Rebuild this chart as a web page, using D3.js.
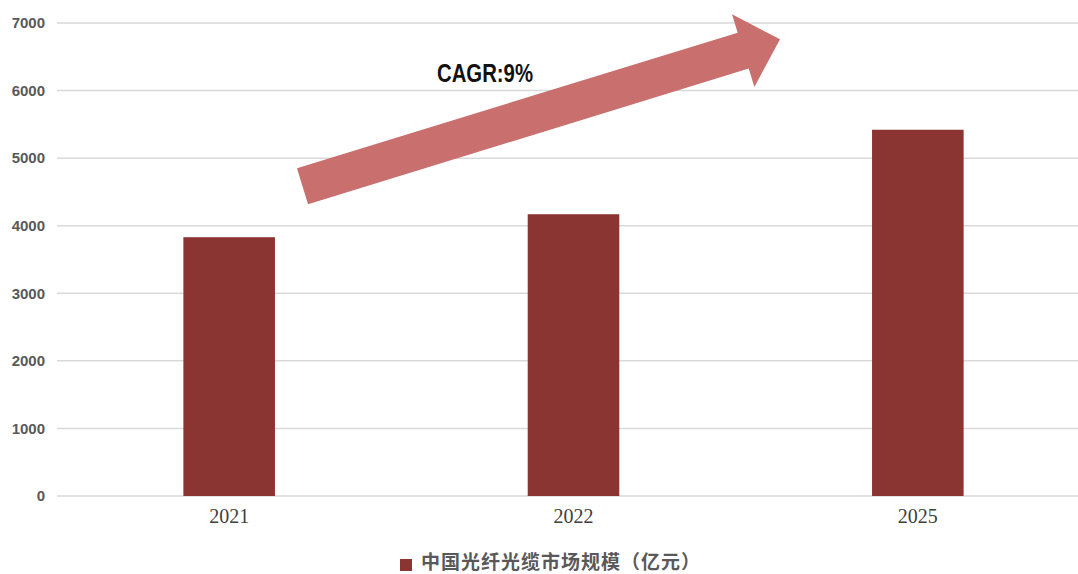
<!DOCTYPE html>
<html>
<head>
<meta charset="utf-8">
<script src="https://cdn.jsdelivr.net/npm/d3@7/dist/d3.min.js"></script>
<style>
  html, body { margin: 0; padding: 0; background: #ffffff; }
  svg { display: block; }
</style>
</head>
<body>
<svg id="chart" width="1078" height="574"></svg>
<script>
// China optical fibre & cable market size (100 million CNY)
const years = ["2021", "2022", "2025"];
const marketSize = [3830, 4170, 5420];
const yTicks = [0, 1000, 2000, 3000, 4000, 5000, 6000, 7000];
const seriesName = "中国光纤光缆市场规模（亿元）";
const cagrLabel = "CAGR:9%";

const W = 1078, H = 574;
const plot = { left: 57, right: 1090, top: 23, bottom: 496 };
const barColor = "#8b3533";
const arrowColor = "#c96f6e";

const svg = d3.select("#chart");

const x = d3.scaleBand()
  .domain(years)
  .range([plot.left, plot.right])
  .paddingInner(0.734)
  .paddingOuter(0.367);

const y = d3.scaleLinear()
  .domain([0, 7000])
  .range([plot.bottom, plot.top]);

// horizontal gridlines
svg.append("g")
  .selectAll("line")
  .data(yTicks)
  .join("line")
  .attr("x1", plot.left)
  .attr("x2", plot.right)
  .attr("y1", d => y(d))
  .attr("y2", d => y(d))
  .attr("stroke", "#d9d9d9")
  .attr("stroke-width", 1.5);

// y axis labels
const yAxis = d3.axisLeft(y).tickValues(yTicks).tickSize(0).tickPadding(0).tickFormat(d3.format("d"));
const gy = svg.append("g")
  .attr("transform", `translate(45,0)`)
  .call(yAxis);
gy.select(".domain").remove();
gy.selectAll("text")
  .attr("font-family", "'Liberation Sans', Arial, sans-serif")
  .attr("font-weight", "bold")
  .attr("font-size", 15)
  .attr("fill", "#595959");

// bars
svg.append("g")
  .selectAll("rect")
  .data(years.map((yr, i) => ({ yr, v: marketSize[i] })))
  .join("rect")
  .attr("x", d => x(d.yr))
  .attr("width", x.bandwidth())
  .attr("y", d => y(d.v))
  .attr("height", d => y(0) - y(d.v))
  .attr("fill", barColor);

// x axis labels
const xAxis = d3.axisBottom(x).tickSize(0).tickPadding(0);
const gx = svg.append("g")
  .attr("transform", `translate(0,${plot.bottom + 13})`)
  .call(xAxis);
gx.select(".domain").remove();
gx.selectAll("text")
  .attr("font-family", "'Liberation Serif', 'DejaVu Serif', serif")
  .attr("font-size", 20)
  .attr("fill", "#404040");

// growth arrow annotation
const tail = [302.5, 186.2];
const tip = [780, 39.3];
const dx = tip[0] - tail[0], dy = tip[1] - tail[1];
const len = Math.hypot(dx, dy);
const ang = Math.atan2(dy, dx) * 180 / Math.PI;
const shaftHalf = 18.8, headHalf = 38, headLen = 38.5;
const arrowPts = [
  [0, -shaftHalf], [len - headLen, -shaftHalf], [len - headLen, -headHalf],
  [len, 0],
  [len - headLen, headHalf], [len - headLen, shaftHalf], [0, shaftHalf]
];
svg.append("path")
  .attr("d", d3.line()(arrowPts) + "Z")
  .attr("transform", `translate(${tail[0]},${tail[1]}) rotate(${ang})`)
  .attr("fill", arrowColor);

svg.append("text")
  .attr("x", 437)
  .attr("y", 81.5)
  .attr("font-family", "'Liberation Sans', Arial, sans-serif")
  .attr("font-weight", "bold")
  .attr("font-size", 25)
  .attr("textLength", 96)
  .attr("lengthAdjust", "spacingAndGlyphs")
  .attr("fill", "#111111")
  .text(cagrLabel);

// legend
const legend = svg.append("g").attr("transform", "translate(400,559)");
legend.append("rect")
  .attr("width", 12).attr("height", 12)
  .attr("fill", barColor);
legend.append("text")
  .attr("x", 21)
  .attr("y", 10)
  .attr("font-family", "'Noto Sans CJK SC', 'Noto Sans', sans-serif")
  .attr("font-weight", "bold")
  .attr("font-size", 19)
  .attr("textLength", 279)
  .attr("lengthAdjust", "spacing")
  .attr("fill", "#595959")
  .text(seriesName);
</script>
</body>
</html>
